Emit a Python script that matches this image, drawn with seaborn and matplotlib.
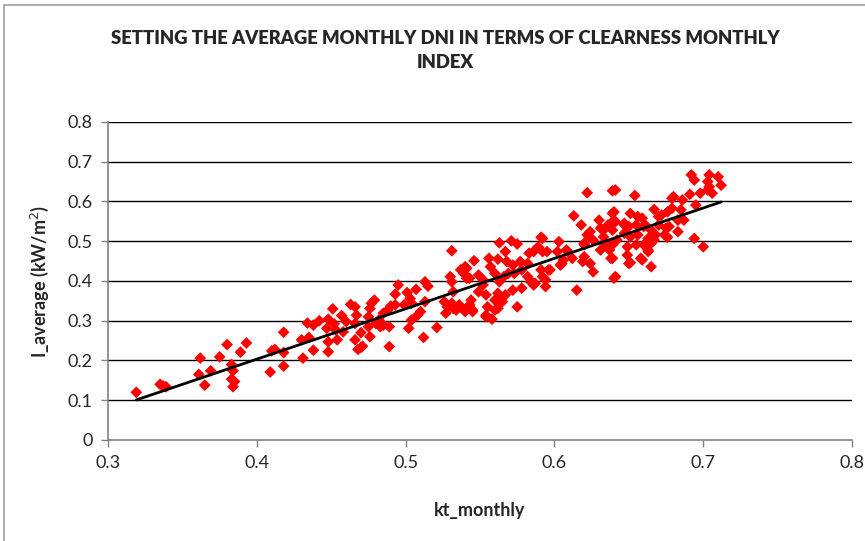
import numpy as np
import pandas as pd
import seaborn as sns
import matplotlib.pyplot as plt
from matplotlib.patches import Rectangle

# monthly clearness index vs average monthly DNI
kt_monthly = [
    0.319, 0.335, 0.337, 0.339, 0.361, 0.362, 0.365, 0.369, 0.375, 0.380, 0.383, 0.384,
    0.383, 0.385, 0.384, 0.389, 0.393, 0.409, 0.410, 0.412, 0.418, 0.418, 0.418,
    0.431, 0.430, 0.435, 0.434, 0.438, 0.438, 0.442, 0.448, 0.451, 0.447, 0.448, 0.448,
    0.452, 0.453, 0.454, 0.457, 0.458, 0.460, 0.463, 0.466, 0.467, 0.466, 0.466, 0.470,
    0.470, 0.468, 0.471, 0.475, 0.477, 0.476, 0.476, 0.475, 0.479, 0.480,
    0.531, 0.495, 0.493, 0.513, 0.515, 0.507, 0.501, 0.503, 0.504, 0.499, 0.493, 0.490,
    0.488, 0.485, 0.482, 0.485, 0.489, 0.483, 0.489, 0.502, 0.504, 0.508, 0.510, 0.512,
    0.521, 0.513, 0.526, 0.527, 0.528, 0.530, 0.531, 0.532, 0.531, 0.534, 0.536, 0.537,
    0.539, 0.540, 0.541, 0.538, 0.540, 0.543,
    0.563, 0.571, 0.575, 0.591, 0.546, 0.556, 0.562, 0.567, 0.568, 0.557, 0.572, 0.577,
    0.582, 0.583, 0.586, 0.589, 0.592, 0.541, 0.543, 0.549, 0.552, 0.560, 0.563, 0.566,
    0.569, 0.573, 0.578, 0.584, 0.587, 0.592, 0.544, 0.545, 0.549, 0.552, 0.554, 0.555,
    0.554, 0.558, 0.560, 0.562, 0.564, 0.567, 0.572, 0.575, 0.578,
    0.622, 0.639, 0.613, 0.618, 0.624, 0.622, 0.630, 0.636, 0.639, 0.640, 0.633, 0.592,
    0.603, 0.595, 0.602, 0.608, 0.612, 0.605, 0.620, 0.620, 0.624, 0.626, 0.633, 0.637,
    0.638, 0.596, 0.594, 0.594, 0.615, 0.640,
    0.641, 0.654, 0.680, 0.640, 0.651, 0.656, 0.659, 0.667, 0.672, 0.676, 0.679, 0.641,
    0.647, 0.650, 0.655, 0.660, 0.665, 0.670, 0.677, 0.683, 0.639, 0.647, 0.651, 0.656,
    0.663, 0.668, 0.683, 0.642, 0.649, 0.655, 0.660, 0.665, 0.639, 0.649, 0.658, 0.663,
    0.639, 0.650, 0.665, 0.641,
    0.692, 0.694, 0.704, 0.710, 0.703, 0.712, 0.704, 0.703, 0.706, 0.698, 0.691, 0.686,
    0.695, 0.685, 0.687, 0.694, 0.700,
    0.651, 0.659, 0.676, 0.675, 0.670, 0.679, 0.586, 0.582, 0.591, 0.597, 0.604, 0.606,
    0.619, 0.631, 0.635, 0.663, 0.667, 0.674, 0.647, 0.661, 0.631, 0.633, 0.626, 0.620,
    0.532, 0.545, 0.554, 0.562, 0.560, 0.565, 0.586, 0.609,
]

i_average = [
    0.120, 0.140, 0.136, 0.134, 0.165, 0.206, 0.138, 0.174, 0.209, 0.240, 0.190, 0.174,
    0.153, 0.147, 0.134, 0.221, 0.244, 0.171, 0.224, 0.228, 0.186, 0.220, 0.271,
    0.206, 0.252, 0.258, 0.294, 0.226, 0.289, 0.300, 0.304, 0.330, 0.281, 0.247, 0.222,
    0.292, 0.277, 0.252, 0.313, 0.272, 0.298, 0.341, 0.335, 0.314, 0.293, 0.252, 0.270,
    0.233, 0.228, 0.236, 0.310, 0.344, 0.331, 0.260, 0.285, 0.352, 0.293,
    0.476, 0.390, 0.367, 0.398, 0.387, 0.379, 0.371, 0.356, 0.344, 0.340, 0.340, 0.337,
    0.327, 0.319, 0.302, 0.289, 0.285, 0.285, 0.235, 0.281, 0.302, 0.314, 0.323, 0.258,
    0.283, 0.348, 0.348, 0.319, 0.335, 0.411, 0.398, 0.373, 0.344, 0.327, 0.340, 0.428,
    0.419, 0.436, 0.407, 0.331, 0.323, 0.340,
    0.496, 0.501, 0.493, 0.510, 0.451, 0.457, 0.455, 0.474, 0.449, 0.436, 0.440, 0.449,
    0.444, 0.470, 0.474, 0.486, 0.474, 0.432, 0.407, 0.415, 0.403, 0.419, 0.398, 0.411,
    0.419, 0.419, 0.428, 0.398, 0.394, 0.411, 0.352, 0.327, 0.373, 0.390, 0.365, 0.335,
    0.310, 0.304, 0.327, 0.369, 0.352, 0.365, 0.377, 0.335, 0.382,
    0.622, 0.627, 0.564, 0.541, 0.524, 0.516, 0.553, 0.541, 0.570, 0.553, 0.528, 0.507,
    0.499, 0.474, 0.474, 0.478, 0.457, 0.444, 0.495, 0.461, 0.444, 0.423, 0.495, 0.478,
    0.457, 0.428, 0.403, 0.386, 0.377, 0.407,
    0.629, 0.615, 0.612, 0.574, 0.570, 0.562, 0.558, 0.580, 0.566, 0.574, 0.583, 0.549,
    0.541, 0.537, 0.541, 0.537, 0.528, 0.541, 0.537, 0.553, 0.528, 0.520, 0.511, 0.516,
    0.507, 0.516, 0.524, 0.503, 0.486, 0.491, 0.491, 0.495, 0.491, 0.465, 0.457, 0.474,
    0.457, 0.444, 0.436, 0.411,
    0.667, 0.654, 0.667, 0.662, 0.650, 0.641, 0.637, 0.629, 0.621, 0.621, 0.618, 0.604,
    0.591, 0.579, 0.553, 0.507, 0.486,
    0.446, 0.453, 0.510, 0.533, 0.562, 0.608, 0.390, 0.411, 0.428, 0.428, 0.440, 0.453,
    0.449, 0.478, 0.491, 0.478, 0.503, 0.516, 0.545, 0.541, 0.533, 0.511, 0.503, 0.491,
    0.331, 0.323, 0.314, 0.331, 0.352, 0.348, 0.394, 0.474,
]

x_ticks = [0.3, 0.4, 0.5, 0.6, 0.7, 0.8]
y_ticks = [0, 0.1, 0.2, 0.3, 0.4, 0.5, 0.6, 0.7, 0.8]

df = pd.DataFrame({'kt': kt_monthly, 'I': i_average})

sns.set_style('white')
plt.rcParams['font.family'] = ['Lato', 'DejaVu Sans']

fig = plt.figure(figsize=(8.65, 5.41), dpi=100)
ax = fig.add_axes([0.1249, 0.1867, 0.8601, 0.5878])

# outer chart border like the spreadsheet chart area
fig.patches.append(Rectangle((0.005, -0.01), 1.2, 1.0, transform=fig.transFigure,
                             fill=False, edgecolor='#a0a0a0', lw=1.2))

for yv in y_ticks[1:]:
    ax.axhline(yv, color='black', lw=1, zorder=1)

sns.scatterplot(data=df, x='kt', y='I', marker='D', color='red', s=36,
                edgecolor='none', ax=ax, zorder=3)
sns.regplot(data=df, x='kt', y='I', scatter=False, ci=None, ax=ax,
            line_kws={'color': 'black', 'lw': 2, 'zorder': 4})

ax.set_xlim(0.3, 0.8)
ax.set_ylim(0, 0.8)
ax.set_xticks(x_ticks)
ax.set_yticks(y_ticks)
ax.set_xticklabels([f'{v:g}' for v in x_ticks], fontsize=13)
ax.set_yticklabels([f'{v:g}' for v in y_ticks], fontsize=13)
ax.tick_params(axis='both', which='both', direction='out', length=5, width=1,
               color='#808080', pad=6, left=True, bottom=True)

for side in ['top', 'right']:
    ax.spines[side].set_visible(False)
for side in ['left', 'bottom']:
    ax.spines[side].set_color('#808080')
    ax.spines[side].set_linewidth(1.2)

ax.set_xlabel('kt_monthly', fontsize=13, fontweight='bold', labelpad=22)
ax.set_ylabel('I_average (kW/m$^2$)', fontsize=13, fontweight='bold', labelpad=12)

fig.text(0.515, 0.945, 'SETTING THE AVERAGE MONTHLY DNI IN TERMS OF CLEARNESS MONTHLY\nINDEX',
         ha='center', va='top', fontsize=13.3, fontweight='heavy', linespacing=1.55)

fig.savefig('out.png', dpi=100)
